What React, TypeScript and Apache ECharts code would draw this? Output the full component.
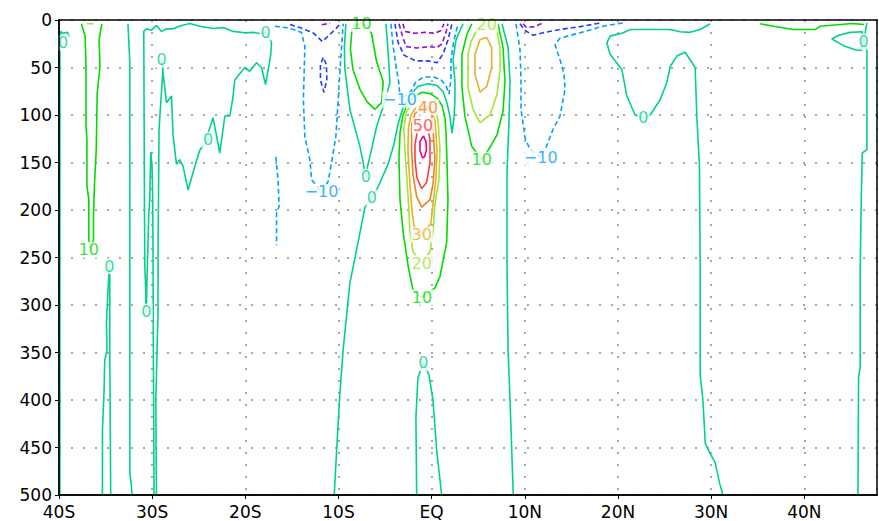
import { useEffect, useRef } from 'react';
import * as echarts from 'echarts';

type Pt = [number, number];

// Section extent: latitude (deg) by depth (m)
const LAT_MIN = -40;
const LAT_MAX = 47.8;
const DEPTH_MIN = 0;
const DEPTH_MAX = 500;
const latTicks = [-40, -30, -20, -10, 0, 10, 20, 30, 40];
const depthTicks = [0, 50, 100, 150, 200, 250, 300, 350, 400, 450, 500];

// ---- zero contours [lat, depth] ----
const zeroWestEdge: Pt[] = [[-38.9, 18], [-39.1, 13], [-39.6, 14], [-39.8, 12], [-39.9, 21], [-39.9, 150], [-39.9, 500]];
const zero35S: Pt[] = [[-35.34, 500], [-35.34, 432], [-35.17, 393], [-35.09, 358], [-34.84, 347], [-34.91, 319], [-34.74, 284], [-34.63, 266], [-34.6, 256], [-34.55, 266], [-34.55, 347], [-34.45, 500]];
const zero32S: Pt[] = [[-32.6, 4], [-32.4, 45], [-32.4, 477], [-32.25, 488], [-32.15, 500]];
const zeroSubtropicS: Pt[] = [
  [-29.54, 500], [-29.61, 400], [-29.37, 308], [-29.37, 242], [-29.26, 115], [-28.83, 50], [-29.0, 42],
  [-28.46, 87], [-27.93, 80], [-27.75, 122], [-27.39, 152], [-27.04, 147], [-26.68, 154], [-26.14, 179],
  [-25.42, 154], [-24.89, 137], [-24.0, 126], [-24.0, 119], [-23.46, 103], [-22.74, 140], [-22.2, 101],
  [-21.66, 101], [-21.31, 80], [-21.13, 63], [-20.05, 50], [-19.52, 54], [-18.8, 45], [-18.26, 50],
  [-17.83, 68], [-17.26, 36], [-17.19, 23], [-17.83, 13], [-18.26, 14.5], [-19.16, 13], [-20.05, 13.5],
  [-21.31, 12], [-22.38, 8], [-23.46, 9], [-24.89, 6.5], [-25.96, 3.7], [-26.85, 5.8], [-27.75, 9.3],
  [-28.46, 9.3], [-29.0, 12], [-29.54, 5.8], [-30.08, 10.7], [-30.61, 9.3], [-30.9, 12], [-30.87, 84],
  [-30.83, 189], [-30.79, 259], [-30.69, 284], [-30.69, 298], [-30.62, 307], [-30.58, 284], [-30.47, 242],
  [-30.37, 205], [-30.26, 189], [-30.15, 139], [-30.01, 154], [-29.94, 189], [-29.9, 259], [-29.88, 337],
  [-29.83, 421], [-29.8, 500],
];
const zero7S: Pt[] = [[-9.21, 4], [-9.37, 29], [-9.31, 52], [-8.78, 94], [-7.7, 133], [-7.22, 157], [-7.06, 165], [-6.95, 157], [-6.63, 144], [-5.91, 112], [-5.2, 91], [-4.48, 66], [-4.69, 31], [-4.91, 4]];
const zeroEquatorial: Pt[] = [
  [-10.46, 500], [-10.2, 453], [-9.85, 393], [-9.5, 347], [-8.78, 277], [-8.06, 242], [-7.7, 224], [-7.16, 197],
  [-6.41, 187], [-5.77, 176], [-4.69, 152], [-4.05, 131], [-3.62, 110], [-3.08, 92], [-2.33, 79], [-1.47, 70],
  [-0.4, 67], [0.57, 69], [1.21, 75], [1.64, 87], [1.97, 102], [2.18, 119], [2.4, 103], [2.5, 84], [2.5, 65],
  [2.29, 42], [2.61, 21], [3.36, 4],
];
const zeroDeepEq: Pt[] = [[-1.61, 500], [-1.69, 418], [-1.47, 376], [-0.9, 361], [-0.29, 373.5], [0.14, 400], [0.54, 453], [1.07, 500]];
const zero8N: Pt[] = [[7.55, 4], [8.2, 29], [8.41, 65], [8.3, 107], [8.09, 158], [8.09, 263], [8.2, 347], [8.41, 400], [8.76, 500]];
const zero25N: Pt[] = [
  [29.89, 4], [28.82, 10], [27.74, 13], [26.67, 12.4], [25.6, 10], [23.8, 10], [21.3, 10], [20.58, 13.5],
  [19.15, 17], [18.8, 24], [19.15, 36], [20.41, 52], [20.95, 80], [21.84, 100], [22.73, 103], [23.45, 100],
  [24.52, 84], [25.24, 66], [25.6, 49], [26.32, 38], [27.21, 34], [28.28, 50], [28.46, 101], [28.74, 154],
  [28.82, 259], [28.82, 373], [29.11, 400], [29.25, 424], [29.36, 445], [29.71, 453], [30.43, 466],
  [30.89, 487], [31.26, 500],
];
const zero46N: Pt[] = [[46.72, 3], [46.36, 22.7], [46.72, 33], [46.72, 136.5], [46.22, 140], [46.11, 189], [46.0, 260], [46.0, 365], [45.82, 376], [45.76, 500]];
const zero44N: Pt[] = [[46.36, 22.7], [46.22, 12.4], [44.93, 13], [43.67, 16], [42.96, 20], [44.21, 27], [45.47, 31.4], [46.11, 32], [46.36, 22.7]];

// ---- positive contours ----
const ten37S: Pt[] = [[-37.6, 4], [-37.2, 17], [-37.1, 49], [-37.1, 112], [-37.0, 126], [-37.0, 175], [-36.8, 189], [-36.8, 231], [-36.6, 244], [-36.3, 231], [-36.3, 207], [-36.2, 175], [-36.0, 136], [-35.9, 77], [-35.6, 49], [-35.7, 21], [-35.4, 4]];
const twenty37S: Pt[] = [[-37.0, 4], [-36.3, 4]];
const ten7S: Pt[] = [[-7.52, 3.5], [-8.3, 6], [-8.56, 10], [-8.72, 31], [-8.45, 52], [-7.7, 73], [-6.95, 86], [-6.09, 94], [-5.37, 87], [-5.2, 65], [-5.91, 44], [-6.44, 15], [-6.81, 7], [-7.52, 3.5]];
const tenCore: Pt[] = [[-1.04, 292], [-2.01, 284], [-2.51, 260], [-3.05, 224], [-3.4, 189], [-3.51, 147], [-3.4, 119], [-3.08, 100], [-2.55, 87], [-1.79, 80], [-1.04, 76], [-0.18, 77.5], [0.57, 82], [1.11, 90], [1.43, 103], [1.54, 119], [1.64, 147], [1.75, 189], [1.61, 234], [0.89, 270], [0.35, 282], [-1.04, 292]];
const twentyCore: Pt[] = [[-1.07, 256], [-2.01, 244], [-2.33, 223], [-2.44, 200], [-2.65, 168], [-2.87, 137], [-2.98, 115], [-2.76, 98], [-2.22, 89], [-1.36, 85], [-0.5, 86], [0.25, 91], [0.68, 105], [0.89, 137], [0.78, 168], [0.35, 194], [0.14, 223], [-0.18, 244], [-1.07, 256]];
const thirtyCore: Pt[] = [[-1.07, 226], [-1.9, 217], [-2.12, 200], [-2.33, 173], [-2.55, 137], [-2.49, 113], [-2.22, 100], [-1.69, 92], [-0.93, 90], [-0.18, 93], [0.35, 105], [0.57, 137], [0.46, 168], [0.14, 194], [-0.08, 214], [-1.07, 226]];
const fortyCore: Pt[] = [[-0.4, 92], [0.0, 99], [0.17, 119], [0.35, 147], [0.14, 173], [-0.18, 189], [-1.07, 197], [-1.61, 186], [-2.01, 163], [-2.15, 137], [-2.15, 110], [-1.79, 98.5], [-1.0, 93], [-0.4, 92]];
const fiftyCore: Pt[] = [[-0.93, 111], [-0.37, 116], [-0.18, 126], [-0.18, 150], [-0.54, 171], [-1.07, 177.5], [-1.58, 166], [-1.79, 147], [-1.79, 131], [-1.55, 118], [-0.93, 111]];
const sixtyCore: Pt[] = [[-0.88, 122], [-0.61, 128], [-0.56, 137], [-0.77, 144], [-0.99, 145], [-1.26, 137], [-1.26, 128], [-0.88, 122]];
const ten5N: Pt[] = [[4.3, 4], [3.79, 15], [3.25, 36], [3.25, 71], [3.58, 102], [4.3, 133], [5.37, 147], [6.26, 134], [7.01, 121], [7.66, 96], [7.87, 65], [7.66, 29], [7.12, 4]];
const twenty5N: Pt[] = [[5.91, 5], [4.97, 8], [4.22, 23], [3.9, 36], [3.9, 71], [4.44, 94], [5.19, 108], [6.26, 100], [7.01, 78.5], [7.34, 52], [7.34, 29], [7.01, 12], [6.58, 6], [5.91, 5]];
const thirty5N: Pt[] = [[5.19, 20.5], [4.65, 36], [4.65, 57], [5.19, 76], [5.91, 70], [6.44, 50], [6.44, 29], [5.91, 18.4], [5.19, 20.5]];
const tenNorthSurface: Pt[] = [[35.26, 4], [36.69, 6.5], [38.84, 10], [41.17, 10], [41.71, 6.5], [43.86, 4.7], [45.11, 3.7], [46.43, 4.7]];

// ---- negative contours ----
const minus10West: Pt[] = [[-16.83, 6.5], [-15.57, 8.2], [-14.87, 10], [-13.96, 13.2], [-13.61, 28], [-13.77, 84], [-13.61, 123], [-13.07, 147], [-12.89, 168], [-11.82, 181], [-11.11, 170], [-10.74, 150], [-10.28, 122], [-10.03, 84], [-9.92, 65], [-9.67, 29], [-9.5, 4]];
const minus10Patch: Pt[] = [[-16.72, 144], [-16.48, 170], [-16.37, 196], [-16.65, 203], [-16.65, 237]];
const minus10Eq: Pt[] = [[-4.37, 4], [-4.16, 26], [-3.83, 48], [-3.51, 67], [-3.4, 84], [-2.22, 75], [-1.69, 65], [-0.83, 60], [0.25, 60], [1.0, 63], [1.54, 69], [1.86, 78], [2.07, 63], [2.07, 42], [2.4, 21], [2.83, 4]];
const minus10East: Pt[] = [[9.05, 4], [9.48, 31], [9.59, 63], [9.59, 94], [10.02, 124], [10.56, 136.5], [11.7, 145], [12.28, 134], [13.03, 115], [13.78, 101], [14.32, 73], [14.21, 57], [13.78, 42], [13.24, 26], [13.78, 19], [15.93, 13.5], [18.4, 6.5], [20.55, 3]];
const minus20West: Pt[] = [[-15.2, 4.7], [-14.15, 8], [-12.72, 13.5], [-11.73, 22.7], [-10.74, 13.5], [-9.85, 4.7]];
const minus20Eddy: Pt[] = [[-11.64, 39.5], [-11.94, 47], [-11.94, 63], [-11.57, 76], [-11.25, 63], [-11.3, 47], [-11.64, 39.5]];
const minus20Eq: Pt[] = [[-3.94, 4], [-3.62, 23], [-2.98, 37], [-1.69, 43], [-0.4, 43], [0.57, 45], [1.21, 36], [1.75, 21], [2.18, 4]];
const minus20East: Pt[] = [[9.48, 4], [10.02, 11], [10.88, 16], [12.17, 13], [13.78, 10], [15.93, 7], [18.08, 3.2]];
const minus30West: Pt[] = [[-11.8, 5], [-10.9, 3.5]];
const minus30Eq: Pt[] = [[-3.51, 4], [-3.19, 15], [-2.76, 28], [-1.58, 29.5], [-0.29, 28], [0.57, 29], [1.11, 25], [1.54, 13], [1.75, 4]];
const minus30East: Pt[] = [[9.8, 4], [10.2, 8], [11.0, 7], [11.8, 3.7]];
const minus40Eq: Pt[] = [[-3.08, 4], [-2.87, 12], [-1.79, 14], [-0.72, 13], [0.35, 14], [1.0, 11], [1.32, 4]];

// contour label anchors: [lat, depth, level]
const contourLabels: [number, number, number][] = [
  [-36.8, 242, 10], [-39.57, 24, 0], [-34.6, 259, 0],
  [-29.0, 42, 0], [-24.0, 126, 0], [-17.83, 13, 0], [-30.62, 307, 0],
  [-11.82, 181, -10], [-7.52, 4, 10], [-7.06, 165, 0], [-6.41, 187, 0],
  [-3.4, 84, -10], [-0.4, 92, 40], [-0.93, 111, 50],
  [-1.07, 226, 30], [-1.07, 256, 20], [-1.04, 292, 10], [-0.9, 361, 0],
  [5.91, 5, 20], [5.37, 147, 10], [11.7, 145, -10], [22.73, 103, 0], [46.36, 22.7, 0],
];

const contours: { level: number; pts: Pt[] }[] = [
  { level: 0, pts: zeroWestEdge }, { level: 0, pts: zero35S }, { level: 0, pts: zero32S },
  { level: 0, pts: zeroSubtropicS }, { level: 0, pts: zero7S }, { level: 0, pts: zeroEquatorial },
  { level: 0, pts: zeroDeepEq }, { level: 0, pts: zero8N }, { level: 0, pts: zero25N },
  { level: 0, pts: zero46N }, { level: 0, pts: zero44N },
  { level: 10, pts: ten37S }, { level: 20, pts: twenty37S }, { level: 10, pts: ten7S },
  { level: 10, pts: tenCore }, { level: 20, pts: twentyCore }, { level: 30, pts: thirtyCore },
  { level: 40, pts: fortyCore }, { level: 50, pts: fiftyCore }, { level: 60, pts: sixtyCore },
  { level: 10, pts: ten5N }, { level: 20, pts: twenty5N }, { level: 30, pts: thirty5N },
  { level: 10, pts: tenNorthSurface },
  { level: -10, pts: minus10West }, { level: -10, pts: minus10Patch }, { level: -10, pts: minus10Eq },
  { level: -10, pts: minus10East }, { level: -20, pts: minus20West }, { level: -20, pts: minus20Eddy },
  { level: -20, pts: minus20Eq }, { level: -20, pts: minus20East }, { level: -30, pts: minus30West },
  { level: -30, pts: minus30Eq }, { level: -30, pts: minus30East }, { level: -40, pts: minus40Eq },
];

// GrADS-style rainbow colours per contour level
const levelColor = (lev: number): string =>
  ({
    '-40': '#a000c8', '-30': '#8c14dc', '-20': '#1e3cff', '-10': '#00a0ff',
    '0': '#00d28c', '10': '#00dc00', '20': '#a0e632', '30': '#e6af2d',
    '40': '#f0821e', '50': '#fa3c3c', '60': '#f00082',
  } as Record<string, string>)[String(lev)] || '#000';

const levelText = (lev: number) => (lev < 0 ? `\u2212${-lev}` : `${lev}`);

const latLabel = (v: number) => {
  if (!latTicks.includes(Math.round(v * 1000) / 1000)) return '';
  if (v === 0) return 'EQ';
  return v < 0 ? `${-v}S` : `${v}N`;
};

const FONT = 'DejaVu Sans';

export default function App() {
  const ref = useRef<HTMLDivElement>(null);

  useEffect(() => {
    if (!ref.current) return;
    const chart = echarts.init(ref.current, undefined, { renderer: 'svg' });

    const borderLine = { show: true, onZero: false, lineStyle: { color: '#000', width: 1.5 } };
    const hidden = { axisTick: { show: false }, axisLabel: { show: false }, splitLine: { show: false } };
    const grid = { lineStyle: { color: '#8c8c8c', width: 1.5, type: [2, 10] as number[] } };

    const lineSeries = contours.map((c) => ({
      type: 'line' as const,
      data: c.pts,
      xAxisIndex: 0,
      yAxisIndex: 0,
      symbol: 'none',
      showSymbol: false,
      silent: true,
      z: 2,
      lineStyle: {
        color: levelColor(c.level),
        width: 1.6,
        type: c.level < 0 ? ([5, 3] as number[]) : 'solid',
      },
    }));

    const labelSeries = {
      type: 'scatter' as const,
      xAxisIndex: 0,
      yAxisIndex: 0,
      symbolSize: 1,
      silent: true,
      z: 5,
      itemStyle: { color: 'rgba(0,0,0,0)' },
      data: contourLabels.map(([lat, dep, lev]) => ({
        value: [lat, dep],
        label: { color: levelColor(lev), formatter: levelText(lev) },
      })),
      label: {
        show: true,
        position: 'inside',
        fontFamily: FONT,
        fontSize: 16,
        backgroundColor: '#fff',
        padding: [0, 1],
      },
    };

    chart.setOption({
      animation: false,
      backgroundColor: '#fff',
      grid: { left: 59, right: 2, top: 20, bottom: 26 },
      xAxis: [
        {
          type: 'value', position: 'bottom', min: LAT_MIN, max: LAT_MAX, interval: 10, z: 0,
          axisLine: borderLine,
          axisTick: { show: true, length: 4, lineStyle: { color: '#000', width: 1 } },
          axisLabel: { formatter: latLabel, color: '#000', fontFamily: FONT, fontSize: 17, margin: 8, showMaxLabel: false },
          splitLine: { show: true, ...grid },
        },
        { type: 'value', position: 'top', min: LAT_MIN, max: LAT_MAX, z: 10, axisLine: borderLine, ...hidden },
        { type: 'value', position: 'bottom', min: LAT_MIN, max: LAT_MAX, z: 10, axisLine: borderLine, ...hidden },
      ],
      yAxis: [
        {
          type: 'value', position: 'left', inverse: true, min: DEPTH_MIN, max: DEPTH_MAX, interval: 50, z: 0,
          axisLine: borderLine,
          axisTick: { show: true, length: 4, lineStyle: { color: '#000', width: 1 } },
          axisLabel: {
            color: '#000', fontFamily: FONT, fontSize: 17, margin: 7,
            formatter: (v: number) => (depthTicks.includes(v) ? String(v) : ''),
          },
          splitLine: { show: true, ...grid },
        },
        { type: 'value', position: 'right', inverse: true, min: DEPTH_MIN, max: DEPTH_MAX, z: 10, axisLine: borderLine, ...hidden },
        { type: 'value', position: 'left', inverse: true, min: DEPTH_MIN, max: DEPTH_MAX, z: 10, axisLine: borderLine, ...hidden },
      ],
      series: [...lineSeries, labelSeries],
    });

    return () => chart.dispose();
  }, []);

  return (
    <div
      ref={ref}
      style={{ position: 'fixed', left: 0, top: 0, width: 879, height: 521, background: '#fff' }}
    />
  );
}
